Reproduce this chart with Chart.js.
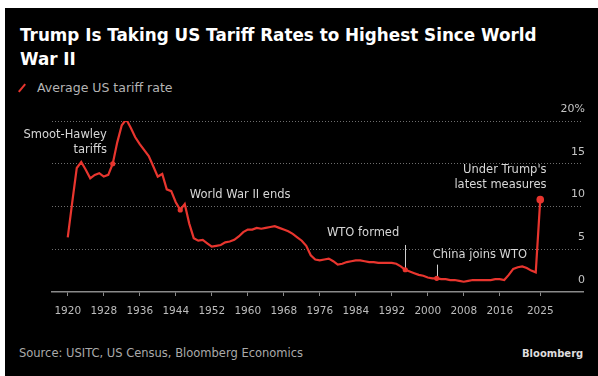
<!DOCTYPE html>
<html>
<head>
<meta charset="utf-8">
<script src="https://cdn.jsdelivr.net/npm/chart.js@4/dist/chart.umd.min.js"></script>
<style>
  html, body { margin: 0; padding: 0; background: #fff; }
  body { width: 598px; height: 376px; position: relative; overflow: hidden; font-family: "DejaVu Sans", sans-serif; }
  #panel { position: absolute; left: 5px; top: 8px; right: 0; bottom: 0; background: #000; }
  #title { position: absolute; left: 20px; top: 23px; width: 570px; color: #fff; font-weight: bold; font-size: 16.8px; line-height: 24px; white-space: nowrap; }
  #legend { position: absolute; left: 37px; top: 80px; color: #b4b4b4; font-size: 12.5px; line-height: 16px; }
  #legend-mark { position: absolute; left: 17px; top: 87px; width: 10px; height: 2px; background: #e8352e; transform: rotate(-50deg); }
  #source { position: absolute; left: 19px; top: 346px; color: #aaa; font-size: 11.5px; line-height: 14px; }
  #brand { position: absolute; left: 522px; top: 347px; color: #ddd; font-size: 10px; font-weight: bold; line-height: 14px; }
  #chart { position: absolute; left: 0; top: 0; }
</style>
</head>
<body>
<div id="panel"></div>
<div id="title">Trump Is Taking US Tariff Rates to Highest Since World<br>War II</div>
<div id="legend-mark"></div>
<div id="legend">Average US tariff rate</div>
<div id="source">Source: USITC, US Census, Bloomberg Economics</div>
<div id="brand">Bloomberg</div>
<canvas id="chart" width="598" height="376"></canvas>
<script>
// --- DATA ---
const years = [
  1920, 1921, 1922, 1923, 1924, 1925, 1926, 1927, 1928, 1929,
  1930, 1931, 1932, 1933, 1934, 1935, 1936, 1937, 1938, 1939,
  1940, 1941, 1942, 1943, 1944, 1945, 1946, 1947, 1948, 1949,
  1950, 1951, 1952, 1953, 1954, 1955, 1956, 1957, 1958, 1959,
  1960, 1961, 1962, 1963, 1964, 1965, 1966, 1967, 1968, 1969,
  1970, 1971, 1972, 1973, 1974, 1975, 1976, 1977, 1978, 1979,
  1980, 1981, 1982, 1983, 1984, 1985, 1986, 1987, 1988, 1989,
  1990, 1991, 1992, 1993, 1994, 1995, 1996, 1997, 1998, 1999,
  2000, 2001, 2002, 2003, 2004, 2005, 2006, 2007, 2008, 2009,
  2010, 2011, 2012, 2013, 2014, 2015, 2016, 2017, 2018, 2019,
  2020, 2021, 2022, 2023, 2024, 2025
];
const tariffRate = [
  6.4, 10.5, 14.5, 15.2, 14.3, 13.3, 13.7, 13.9, 13.5, 13.7,
  15.0, 17.5, 19.5, 20.2, 19.2, 18.1, 17.3, 16.6, 15.9, 14.7,
  13.5, 13.8, 12.0, 11.8, 10.5, 9.6, 10.3, 8.0, 6.3, 6.0,
  6.1, 5.7, 5.3, 5.4, 5.5, 5.8, 5.9, 6.1, 6.5, 7.0,
  7.3, 7.3, 7.5, 7.4, 7.5, 7.6, 7.7, 7.5, 7.3, 7.1,
  6.8, 6.4, 6.0, 5.4, 4.3, 3.8, 3.7, 3.8, 3.9, 3.6,
  3.2, 3.3, 3.5, 3.6, 3.7, 3.7, 3.6, 3.5, 3.5, 3.4,
  3.4, 3.4, 3.4, 3.3, 3.0, 2.6, 2.4, 2.2, 2.0, 1.9,
  1.7, 1.6, 1.6, 1.5, 1.5, 1.4, 1.4, 1.3, 1.2, 1.3,
  1.4, 1.4, 1.4, 1.4, 1.4, 1.5, 1.5, 1.4, 2.0, 2.7,
  2.9, 3.0, 2.8, 2.5, 2.3, 10.8
];
const xTickYears = [1920, 1928, 1936, 1944, 1952, 1960, 1968, 1976, 1984, 1992, 2000, 2008, 2016, 2025];
const yTickValues = [0, 5, 10, 15, 20];
const markerYears = [1930, 1945, 1995, 2002, 2025];

// annotation text, anchored in data units (year, rate)
const notes = [
  { lines: ['Smoot-Hawley', 'tariffs'], year: 1928.7, rate: 18.4, align: 'right' },
  { lines: ['World War II ends'], year: 1947.1, rate: 11.35, align: 'left' },
  { lines: ['WTO formed'], year: 1977.6, rate: 6.9, align: 'left' },
  { lines: ['China joins WTO'], year: 2001.1, rate: 4.3, align: 'left' },
  { lines: ["Under Trump's", 'latest measures'], year: 2026.4, rate: 14.3, align: 'right' }
];
const leaders = [
  { year: 1995, from: 5.5 },
  { year: 2002, from: 3.2 }
];

const RED = '#e8352e';
const rateOf = y => tariffRate[years.indexOf(y)];

const notesPlugin = {
  id: 'notes',
  beforeDatasetsDraw(chart) {
    const { ctx, scales: { x, y } } = chart;
    ctx.save();
    ctx.strokeStyle = '#cfcfcf';
    ctx.lineWidth = 1;
    leaders.forEach(l => {
      const px = Math.round(x.getPixelForValue(l.year)) + 0.5;
      ctx.beginPath();
      ctx.moveTo(px, y.getPixelForValue(l.from));
      ctx.lineTo(px, y.getPixelForValue(rateOf(l.year)));
      ctx.stroke();
    });
    ctx.restore();
  },
  afterDatasetsDraw(chart) {
    const { ctx, scales: { x, y } } = chart;
    ctx.save();
    ctx.font = '11.5px "DejaVu Sans"';
    ctx.fillStyle = '#d6d6d6';
    ctx.textBaseline = 'middle';
    notes.forEach(n => {
      ctx.textAlign = n.align;
      const px = x.getPixelForValue(n.year);
      const py = y.getPixelForValue(n.rate);
      n.lines.forEach((t, i) => ctx.fillText(t, px, py + i * 15));
    });
    ctx.restore();
  }
};

new Chart(document.getElementById('chart'), {
  type: 'line',
  data: {
    datasets: [
      {
        data: years.map((yr, i) => ({ x: yr, y: tariffRate[i] })),
        borderColor: RED,
        borderWidth: 2.2,
        pointRadius: 0,
        tension: 0,
        order: 2
      },
      {
        data: markerYears.map(yr => ({ x: yr, y: rateOf(yr) })),
        showLine: false,
        backgroundColor: RED,
        borderColor: RED,
        borderWidth: 0,
        pointRadius: markerYears.map(yr => yr === 2025 ? 3.8 : 2.6),
        order: 1
      }
    ]
  },
  options: {
    responsive: false,
    animation: false,
    layout: { padding: { left: 52, right: 15, top: 121, bottom: 60 } },
    plugins: { legend: { display: false }, tooltip: { enabled: false } },
    scales: {
      x: {
        type: 'linear',
        min: 1916.5,
        max: 2034.5,
        afterBuildTicks: s => { s.ticks = xTickYears.map(v => ({ value: v })); },
        afterFit: s => { s.height = 24; },
        grid: { display: true, drawOnChartArea: false, drawTicks: true, tickLength: 4, color: '#8a8a8a', lineWidth: 1 },
        border: { display: true, color: '#8a8a8a', width: 1.5 },
        ticks: { color: '#bdbdbd', font: { family: 'DejaVu Sans', size: 10.5 }, padding: 9, maxRotation: 0, autoSkip: false, callback: v => String(v) }
      },
      y: {
        position: 'right',
        min: 0,
        max: 20,
        afterBuildTicks: s => { s.ticks = yTickValues.map(v => ({ value: v })); },
        afterFit: s => { s.width = 0; },
        grid: { drawTicks: false, color: c => c.tick && c.tick.value === 0 ? 'rgba(0,0,0,0)' : '#6e6e6e', lineWidth: 1 },
        border: { display: false, dash: [1, 2] },
        ticks: {
          mirror: true,
          padding: 2,
          labelOffset: -12,
          color: '#c4c4c4',
          font: { family: 'DejaVu Sans', size: 11 },
          callback: v => v === 20 ? '20%' : String(v)
        }
      }
    }
  },
  plugins: [notesPlugin]
});
</script>
</body>
</html>
